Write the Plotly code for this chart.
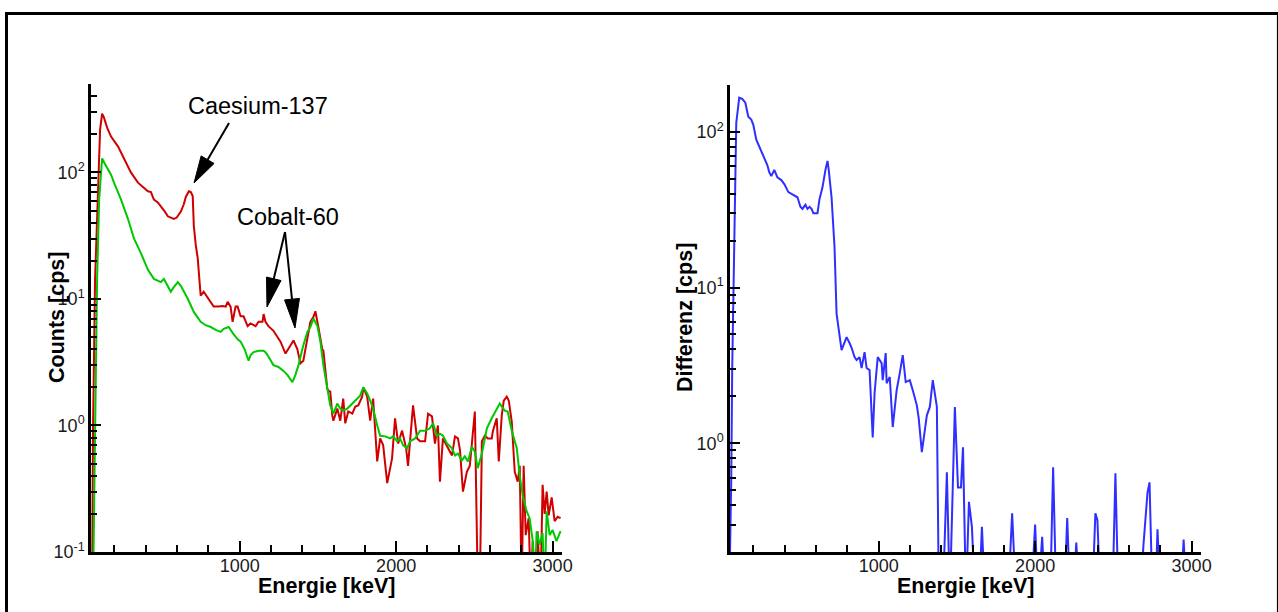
import math
import plotly.graph_objects as go

W, H = 1278, 612

# ---------------- data ----------------
# Total spectrum (red)
total_energy = [
    57, 63, 76, 95, 108, 121, 133, 153, 178, 223,
    261, 305, 350, 388, 414, 433, 452, 477, 497, 522,
    541, 560, 579, 598, 624, 643, 656, 675, 688, 700,
    707, 719, 732, 745, 751, 770, 802, 834, 866, 891,
    911, 923, 942, 955, 974, 987, 1006, 1025, 1051, 1070,
    1102, 1121, 1146, 1153, 1165, 1184, 1216, 1261, 1293, 1325,
    1344, 1369, 1388, 1407, 1433, 1452, 1471, 1484, 1503, 1528,
    1535, 1560, 1567, 1579, 1592, 1599, 1624, 1643, 1662, 1675,
    1694, 1720, 1739, 1758, 1783, 1790, 1815, 1834, 1853, 1879,
    1898, 1917, 1943, 1974, 1993, 2013, 2038, 2064, 2076, 2108,
    2134, 2153, 2185, 2204, 2229, 2236, 2248, 2267, 2280, 2299,
    2325, 2357, 2376, 2395, 2408, 2427, 2452, 2471, 2503, 2522,
    2535, 2548, 2567, 2586, 2611, 2618, 2643, 2656, 2675, 2688,
    2707, 2720, 2739, 2758, 2777, 2790, 2802, 2815, 2828, 2847,
    2860, 2873, 2892, 2904, 2923, 2936, 2949, 2962, 2975, 2994,
    3013, 3032, 3051,
]
total_counts = [
    0.05, 0.95, 14.4, 88, 218, 292, 271, 226, 192, 160,
    127, 100, 83, 76, 71, 70, 61, 58, 54, 49,
    45, 44, 43, 44, 49, 56, 64, 71, 70, 65,
    38, 27, 21, 13.1, 10.6, 11.4, 10.0, 8.7, 8.7, 8.8,
    8.7, 9.5, 8.7, 6.6, 8.7, 8.7, 7.3, 7.3, 6.1, 6.4,
    6.1, 6.6, 6.6, 7.6, 6.6, 6.1, 5.6, 4.6, 3.7, 4.3,
    4.7, 4.0, 3.1, 3.25, 5.1, 6.6, 7.2, 8.0, 6.0, 4.0,
    3.9, 1.95, 1.89, 1.85, 1.20, 1.09, 1.36, 1.09, 1.63, 1.04,
    1.29, 1.24, 1.41, 1.44, 1.69, 2.0, 1.69, 1.09, 1.63, 0.52,
    0.79, 0.70, 0.35, 0.55, 1.14, 0.72, 0.91, 0.66, 0.48, 1.44,
    0.79, 0.75, 0.75, 1.24, 1.18, 0.95, 0.72, 1.0, 0.36, 0.79,
    0.68, 0.58, 0.82, 0.79, 0.64, 0.30, 0.43, 0.48, 1.29, 0.05,
    0.05, 0.75, 0.83, 0.79, 0.79, 0.90, 1.14, 0.52, 1.20, 1.57,
    1.69, 1.57, 1.07, 0.43, 0.36, 0.48, 0.05, 0.48, 0.136, 0.185,
    0.05, 0.122, 0.05, 0.146, 0.05, 0.34, 0.20, 0.30, 0.195, 0.27,
    0.175, 0.19, 0.185,
]

# Background spectrum (green)
bg_energy = [
    63, 76, 89, 102, 121, 140, 159, 178, 197, 242,
    286, 325, 369, 414, 452, 477, 497, 516, 541, 560,
    579, 605, 624, 669, 707, 751, 783, 815, 847, 879,
    898, 930, 955, 987, 1006, 1032, 1057, 1070, 1089, 1121,
    1153, 1165, 1178, 1197, 1216, 1248, 1280, 1306, 1337, 1356,
    1376, 1407, 1433, 1452, 1471, 1497, 1516, 1535, 1560, 1579,
    1599, 1624, 1643, 1662, 1688, 1707, 1739, 1770, 1790, 1815,
    1834, 1853, 1879, 1898, 1930, 1962, 1981, 2006, 2025, 2044,
    2070, 2089, 2121, 2153, 2185, 2216, 2236, 2261, 2280, 2299,
    2325, 2357, 2376, 2395, 2420, 2439, 2459, 2484, 2503, 2522,
    2548, 2580, 2611, 2643, 2662, 2694, 2713, 2739, 2771, 2790,
    2809, 2834, 2853, 2873, 2885, 2898, 2917, 2936, 2949, 2962,
    2981, 3000, 3025, 3051,
]
bg_counts = [
    0.05, 1.14, 14.4, 61, 129, 116, 106, 96, 83, 61,
    43, 30, 23, 17, 14.4, 13.9, 13.6, 14.4, 12.4, 11.4,
    12.4, 13.6, 12.7, 10.0, 7.9, 6.6, 6.2, 6.0, 5.7, 5.5,
    5.8, 6.0, 5.4, 4.8, 4.6, 4.0, 3.25, 3.6, 3.8, 3.9,
    3.9, 3.8, 3.6, 3.25, 3.0, 2.9, 2.7, 2.5, 2.2, 2.5,
    3.0, 4.3, 5.5, 6.0, 7.0, 6.1, 4.6, 3.0, 1.95, 1.44,
    1.24, 1.49, 1.36, 1.31, 1.36, 1.44, 1.57, 1.72, 2.0, 1.79,
    1.57, 1.36, 1.0, 0.83, 0.82, 0.79, 0.82, 0.75, 0.79, 0.70,
    0.66, 0.75, 0.79, 0.91, 0.91, 0.95, 1.04, 0.83, 0.86, 0.83,
    0.72, 0.66, 0.58, 0.60, 0.53, 0.57, 0.52, 0.68, 0.62, 0.46,
    0.60, 0.95, 1.14, 1.36, 1.49, 1.31, 1.29, 0.91, 0.66, 0.40,
    0.28, 0.21, 0.185, 0.122, 0.05, 0.146, 0.114, 0.141, 0.05, 0.21,
    0.136, 0.149, 0.122, 0.146,
]

# Difference spectrum (blue)
diff_energy = [
    45, 58, 64, 77, 90, 109, 128, 148, 167, 186,
    199, 218, 237, 257, 276, 289, 301, 314, 333, 353,
    378, 398, 423, 462, 481, 500, 513, 532, 545, 558,
    571, 583, 609, 622, 641, 660, 673, 680, 699, 718,
    731, 763, 795, 814, 827, 846, 859, 878, 891, 898,
    910, 923, 942, 962, 974, 994, 1019, 1026, 1045, 1051,
    1071, 1090, 1115, 1135, 1154, 1173, 1199, 1218, 1244, 1256,
    1276, 1295, 1308, 1327, 1346, 1372, 1385, 1410, 1436, 1455,
    1487, 1507, 1526, 1539, 1558, 1577, 1596, 1616, 1641, 1660,
    1680, 1827, 1853, 1878, 1974, 2000, 2019, 2045, 2064, 2096,
    2115, 2135, 2186, 2205, 2224, 2244, 2263, 2282, 2365, 2385,
    2398, 2417, 2494, 2513, 2532, 2673, 2692, 2718, 2731, 2750,
    2769, 2782, 2801, 2929, 2949, 2968, 3064,
]
diff_counts = [
    0.1, 0.58, 2.95, 17.4, 114, 166, 163, 154, 125, 120,
    111, 89, 80, 71, 64, 61, 55, 52, 57, 51,
    49, 46, 41, 39, 38, 33, 32, 34, 32, 33,
    32, 30, 30, 37, 44, 57, 65, 58, 38, 18.2,
    6.8, 3.96, 4.8, 4.4, 4.1, 3.57, 3.42, 3.57, 3.04, 3.32,
    3.85, 3.04, 2.95, 1.09, 2.1, 3.57, 3.27, 2.54, 3.79, 2.43,
    2.66, 1.27, 2.19, 2.82, 3.68, 2.47, 2.54, 2.19, 1.75, 1.45,
    0.875, 1.21, 1.51, 1.71, 2.54, 1.71, 0.1, 0.1, 0.65, 0.1,
    1.71, 0.52, 0.52, 0.94, 0.1, 0.42, 0.29, 0.1, 0.1, 0.29,
    0.1, 0.1, 0.355, 0.1, 0.1, 0.30, 0.1, 0.25, 0.1, 0.1,
    0.70, 0.1, 0.1, 0.33, 0.1, 0.1, 0.23, 0.1, 0.1, 0.355,
    0.32, 0.1, 0.1, 0.64, 0.1, 0.1, 0.22, 0.48, 0.56, 0.1,
    0.1, 0.28, 0.1, 0.1, 0.24, 0.1, 0.1,
]

# ticks
x_major = [1000, 2000, 3000]
x_major_text = ["1000", "2000", "3000"]
x_minor = [200, 400, 600, 800, 1200, 1400, 1600, 1800,
           2200, 2400, 2600, 2800]
left_y_major = [0.1, 1, 10, 100]
left_y_text = ["10<sup>-1</sup>", "10<sup>0</sup>", "10<sup>1</sup>", "10<sup>2</sup>"]
left_y_minor = [0.2, 0.3, 0.4, 0.5, 0.6, 0.7, 0.8, 0.9,
                2, 3, 4, 5, 6, 7, 8, 9,
                20, 30, 40, 50, 60, 70, 80, 90,
                200, 300, 400, 500]
right_y_major = [1, 10, 100]
right_y_text = ["10<sup>0</sup>", "10<sup>1</sup>", "10<sup>2</sup>"]
right_y_minor = [0.2, 0.3, 0.4, 0.5, 0.6, 0.7, 0.8, 0.9,
                 2, 3, 4, 5, 6, 7, 8, 9,
                 20, 30, 40, 50, 60, 70, 80, 90, 200]

FONT = "Arial, Liberation Sans, Helvetica, sans-serif"


def px(x):
    return x / W


def py(y):
    return 1 - y / H


fig = go.Figure()
fig.add_trace(go.Scatter(x=total_energy, y=total_counts, mode="lines",
                         line=dict(color="#d00000", width=2),
                         xaxis="x", yaxis="y", showlegend=False))
fig.add_trace(go.Scatter(x=bg_energy, y=bg_counts, mode="lines",
                         line=dict(color="#00c800", width=2),
                         xaxis="x", yaxis="y", showlegend=False))
fig.add_trace(go.Scatter(x=diff_energy, y=diff_counts, mode="lines",
                         line=dict(color="#2f2fff", width=2),
                         xaxis="x2", yaxis="y2", showlegend=False))

tickfont = dict(family=FONT, size=18, color="#1a1a1a")


def xaxis_cfg(domain, anchor):
    return dict(domain=domain, anchor=anchor, range=[50, 3060],
                showline=True, linewidth=2.5, linecolor="black",
                ticks="inside", ticklen=11, tickwidth=2, tickcolor="black",
                tickmode="array", tickvals=x_major, ticktext=x_major_text,
                tickfont=tickfont, showgrid=False, zeroline=False,
                automargin=False, ticklabelstandoff=-4,
                minor=dict(tickmode="array", tickvals=x_minor, ticks="inside",
                           ticklen=7, tickwidth=2, tickcolor="black",
                           showgrid=False))


def yaxis_cfg(domain, anchor, rng, major, text, minor):
    return dict(domain=domain, anchor=anchor, type="log", range=rng,
                showline=True, linewidth=2.5, linecolor="black",
                ticks="inside", ticklen=10, tickwidth=2, tickcolor="black",
                tickmode="array", tickvals=major, ticktext=text,
                tickfont=tickfont, showgrid=False, zeroline=False,
                automargin=False,
                minor=dict(tickmode="array", tickvals=minor, ticks="inside",
                           ticklen=6, tickwidth=2, tickcolor="black",
                           showgrid=False))


fig.update_layout(
    width=W, height=H, autosize=False,
    margin=dict(l=0, r=0, t=0, b=0, pad=0),
    paper_bgcolor="white", plot_bgcolor="white",
    font=dict(family=FONT, color="black"),
    xaxis=xaxis_cfg([px(91), px(562)], "y"),
    yaxis=yaxis_cfg([py(552), py(84)], "x", [-1, math.log10(500)],
                    left_y_major, left_y_text, left_y_minor),
    xaxis2=xaxis_cfg([px(730), px(1201)], "y2"),
    yaxis2=yaxis_cfg([py(552), py(85)], "x2", [math.log10(0.2), math.log10(200)],
                     right_y_major, right_y_text, right_y_minor),
)

# axis titles and labels
title_font = dict(family=FONT, size=21.5, color="black")
annotations = [
    dict(text="<b>Counts [cps]</b>", x=px(57), y=py(318), textangle=-90),
    dict(text="<b>Energie [keV]</b>", x=px(326), y=py(586)),
    dict(text="<b>Differenz [cps]</b>", x=px(685), y=py(318), textangle=-90),
    dict(text="<b>Energie [keV]</b>", x=px(965), y=py(586)),
]
for a in annotations:
    a.update(xref="paper", yref="paper", showarrow=False, font=title_font,
             xanchor="center", yanchor="middle")
label_font = dict(family=FONT, size=23.5, color="black")
annotations += [
    dict(text="Caesium-137", x=px(258), y=py(106), xref="paper", yref="paper",
         showarrow=False, font=label_font, xanchor="center", yanchor="middle"),
    dict(text="Cobalt-60", x=px(288), y=py(217), xref="paper", yref="paper",
         showarrow=False, font=label_font, xanchor="center", yanchor="middle"),
]
fig.update_layout(annotations=annotations)


def arrow_shapes(tail, tip, head_len=27, head_w=15):
    dx, dy = tip[0] - tail[0], tip[1] - tail[1]
    d = math.hypot(dx, dy)
    ux, uy = dx / d, dy / d
    bx, by = tip[0] - head_len * ux, tip[1] - head_len * uy
    nx, ny = -uy, ux
    p1 = (bx + head_w / 2 * nx, by + head_w / 2 * ny)
    p2 = (bx - head_w / 2 * nx, by - head_w / 2 * ny)
    line = dict(type="line", xref="paper", yref="paper",
                x0=px(tail[0]), y0=py(tail[1]), x1=px(bx), y1=py(by),
                line=dict(color="black", width=2))
    path = "M {:.5f},{:.5f} L {:.5f},{:.5f} L {:.5f},{:.5f} Z".format(
        px(tip[0]), py(tip[1]), px(p1[0]), py(p1[1]), px(p2[0]), py(p2[1]))
    head = dict(type="path", xref="paper", yref="paper", path=path,
                fillcolor="black", line=dict(color="black", width=1))
    return [line, head]


shapes = []
shapes += arrow_shapes((229, 123), (194, 183))
shapes += arrow_shapes((285, 232), (267, 307), head_len=29)
shapes += arrow_shapes((285, 232), (295, 328), head_len=29)

# outer frame
shapes += [
    dict(type="line", xref="paper", yref="paper", x0=px(5), x1=1.0,
         y0=py(13.5), y1=py(13.5), line=dict(color="black", width=3)),
    dict(type="line", xref="paper", yref="paper", x0=px(6.5), x1=px(6.5),
         y0=0, y1=py(12), line=dict(color="black", width=3)),
    dict(type="line", xref="paper", yref="paper", x0=px(1277.5), x1=px(1277.5),
         y0=0, y1=py(13), line=dict(color="black", width=1.2)),
]
fig.update_layout(shapes=shapes)

fig.write_html(
    "out.html",
    config={"displayModeBar": False},
    post_script="document.body.style.margin='0';document.body.style.overflow='hidden';",
)
